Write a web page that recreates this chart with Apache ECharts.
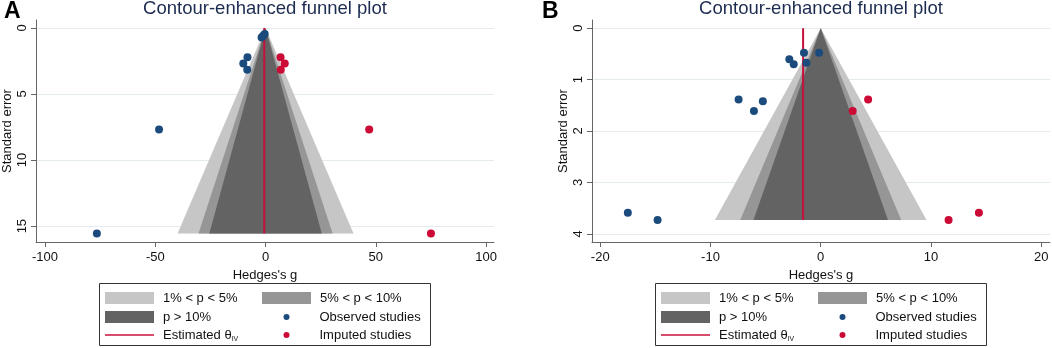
<!DOCTYPE html>
<html><head><meta charset="utf-8">
<script src="https://cdn.jsdelivr.net/npm/echarts@6/dist/echarts.min.js"></script>
<style>html,body{margin:0;padding:0;background:#fff}#c{width:1052px;height:348px}</style>
</head><body><div id="c"></div>
<script>
// ---------- Panel A ----------
const aXTicks = [-100, -50, 0, 50, 100];
const aYTicks = [0, 5, 10, 15];
const aObserved = [[-1.2, 0.62], [-0.4, 0.45], [-1.8, 0.72], [-8.2, 2.22], [-10.1, 2.7], [-8.3, 3.16], [-48.3, 7.68], [-76.5, 15.55]];
const aImputed = [[6.8, 2.22], [8.7, 2.7], [6.9, 3.16], [47.0, 7.68], [75.0, 15.55]];
const aTheta = -0.6;
const aSeMax = 15.55;
const aHalfWidths = [39.9, 30.4, 25.5];   // base half-widths of 1%, 5%, 10% contours
// ---------- Panel B ----------
const bXTicks = [-20, -10, 0, 10, 20];
const bYTicks = [0, 1, 2, 3, 4];
const bObserved = [[-2.85, 0.605], [-2.45, 0.70], [-7.45, 1.385], [-5.25, 1.42], [-6.06, 1.61], [-1.52, 0.476], [-1.30, 0.67], [-0.15, 0.476], [-17.5, 3.59], [-14.8, 3.73]];
const bImputed = [[4.3, 1.385], [2.9, 1.61], [11.6, 3.73], [14.35, 3.59]];
const bTheta = -1.6;
const bSeMax = 3.73;
const bHalfWidths = [9.6, 7.3, 6.1];

const regionNames = ['1% < p < 5%', '5% < p < 10%', 'p > 10%'];
const regionColors = ['#c6c6c6', '#969696', '#636363'];
const lineName = 'Estimated θIV';
const obsName = 'Observed studies';
const impName = 'Imputed studies';
const BLUE = '#1b4b7c', RED = '#cc0a36', LINE = '#c8103c';
const FONT = '"Liberation Sans", Arial, sans-serif';

function tri(params, api) {
  const apex = api.coord([api.value(0), api.value(1)]);
  const l = api.coord([api.value(2), api.value(3)]);
  const r = api.coord([api.value(4), api.value(3)]);
  return { type: 'polygon', shape: { points: [apex, l, r] }, style: { fill: api.visual('color') } };
}

function panelSeries(idx, halfW, seMax, theta, obs, imp) {
  const s = [];
  halfW.forEach((w, i) => {
    s.push({ type: 'custom', name: regionNames[i], xAxisIndex: idx, yAxisIndex: idx,
      renderItem: tri, itemStyle: { color: regionColors[i] }, encode: { x: [0, 2, 4], y: [1, 3] },
      data: [[0, 0, -w, seMax, w]], silent: true, z: 2 + i });
  });
  s.push({ type: 'line', name: lineName, xAxisIndex: idx, yAxisIndex: idx, symbol: 'none',
    lineStyle: { color: LINE, width: 2 }, itemStyle: { color: LINE },
    data: [[theta, 0], [theta, seMax]], z: 6, silent: true });
  s.push({ type: 'scatter', name: obsName, xAxisIndex: idx, yAxisIndex: idx, symbolSize: 8,
    itemStyle: { color: BLUE, opacity: 1 }, data: obs, z: 7, silent: true });
  s.push({ type: 'scatter', name: impName, xAxisIndex: idx, yAxisIndex: idx, symbolSize: 8,
    itemStyle: { color: RED, opacity: 1 }, data: imp, z: 7, silent: true });
  return s;
}

function xAxis(idx, min, max, ticks) {
  return { type: 'value', gridIndex: idx, min, max, name: "Hedges's g", nameLocation: 'middle', nameGap: 23,
    nameTextStyle: { fontFamily: FONT, fontSize: 13, color: '#111' },
    axisLine: { onZero: false, lineStyle: { color: '#666', width: 1 } },
    axisTick: { show: true, length: 5, customValues: ticks, lineStyle: { color: '#666' } },
    axisLabel: { customValues: ticks, margin: 9, fontFamily: FONT, fontSize: 13, color: '#111' },
    splitLine: { show: false } };
}
function yAxis(idx, min, max, ticks) {
  return { type: 'value', gridIndex: idx, min, max, inverse: true, name: 'Standard error', nameLocation: 'middle', nameGap: 22,
    nameTextStyle: { fontFamily: FONT, fontSize: 13, color: '#111' },
    axisLine: { onZero: false, lineStyle: { color: '#666', width: 1 } },
    axisTick: { show: true, length: 5, customValues: ticks, lineStyle: { color: '#666' } },
    axisLabel: { customValues: ticks, rotate: 90, margin: 7, fontFamily: FONT, fontSize: 13, color: '#111' },
    splitLine: { show: true, lineStyle: { color: '#e3ebee', width: 1 } } };
}

// legend layout: swatch items are 49 px wide; dots sit centred in that width
const legendItems = [
  { name: regionNames[0], col: 0, row: 0, kind: 'rect' },
  { name: regionNames[1], col: 1, row: 0, kind: 'rect' },
  { name: regionNames[2], col: 0, row: 1, kind: 'rect' },
  { name: obsName, col: 1, row: 1, kind: 'dot' },
  { name: lineName, col: 0, row: 2, kind: 'line' },
  { name: impName, col: 1, row: 2, kind: 'dot' }
];
const rowCenters = [298, 317, 335];
function legends(offsetX) {
  return legendItems.map(it => {
    const x0 = 105 + offsetX + it.col * 157;
    const isDot = it.kind === 'dot';
    return {
      data: [{ name: it.name, icon: isDot ? 'circle' : 'rect' }],
      left: isDot ? x0 + 21.5 : x0, top: rowCenters[it.row] - 7.5,
      orient: 'horizontal', padding: 0,
      itemWidth: isDot ? 6 : 49, itemHeight: isDot ? 6 : (it.kind === 'line' ? 1.5 : 12),
      selectedMode: false,
      textStyle: { fontFamily: FONT, fontSize: 13, color: '#111', lineHeight: 15, padding: [0, 0, 0, isDot ? 25 : 4],
        rich: { sub: { fontFamily: FONT, fontSize: 7, color: '#111', verticalAlign: 'bottom', padding: [6, 0, 0, 0], lineHeight: 15 } } },
      formatter: n => n === lineName ? 'Estimated θ{sub|IV}' : n
    };
  });
}

const option = {
  animation: false,
  backgroundColor: '#fff',
  grid: [
    { left: 36, right: 558, top: 20, bottom: 106, containLabel: false, outerBoundsMode: 'none' },
    { left: 592, right: 2, top: 20, bottom: 106, containLabel: false, outerBoundsMode: 'none' }
  ],
  xAxis: [xAxis(0, -104.1, 103.6, aXTicks), xAxis(1, -20.75, 20.8, bXTicks)],
  yAxis: [yAxis(0, -0.6, 16.2, aYTicks), yAxis(1, -0.16, 4.16, bYTicks)],
  legend: legends(0).concat(legends(556)),
  series: panelSeries(0, aHalfWidths, aSeMax, aTheta, aObserved, aImputed)
    .concat(panelSeries(1, bHalfWidths, bSeMax, bTheta, bObserved, bImputed)),
  graphic: [
    { type: 'text', x: 265, y: 9, style: { text: 'Contour-enhanced funnel plot', fontFamily: FONT, fontSize: 18.5, fill: '#1c2b50', textAlign: 'center', textVerticalAlign: 'middle' } },
    { type: 'text', x: 821, y: 9, style: { text: 'Contour-enhanced funnel plot', fontFamily: FONT, fontSize: 18.5, fill: '#1c2b50', textAlign: 'center', textVerticalAlign: 'middle' } },
    { type: 'text', x: 4, y: 12, style: { text: 'A', fontFamily: FONT, fontSize: 23, fontWeight: 'bold', fill: '#000', textVerticalAlign: 'middle' } },
    { type: 'text', x: 542, y: 12, style: { text: 'B', fontFamily: FONT, fontSize: 23, fontWeight: 'bold', fill: '#000', textVerticalAlign: 'middle' } },
    { type: 'rect', shape: { x: 99.5, y: 283.5, width: 331, height: 62 }, style: { fill: 'none', stroke: '#333', lineWidth: 1 }, z: 100 },
    { type: 'rect', shape: { x: 655.5, y: 283.5, width: 331, height: 62 }, style: { fill: 'none', stroke: '#333', lineWidth: 1 }, z: 100 }
  ]
};
const chart = echarts.init(document.getElementById('c'), null, { renderer: 'canvas' });
chart.setOption(option);
</script></body></html>
